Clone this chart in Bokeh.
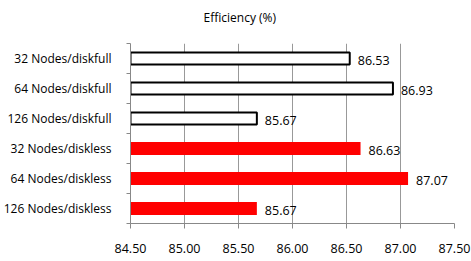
from bokeh.plotting import figure
from bokeh.models import FixedTicker, NumeralTickFormatter, ColumnDataSource, Title
from bokeh.core.properties import value
from bokeh.embed import file_html
from bokeh.resources import INLINE

categories = ["32 Nodes/diskfull", "64 Nodes/diskfull", "126 Nodes/diskfull",
              "32 Nodes/diskless", "64 Nodes/diskless", "126 Nodes/diskless"]
efficiency = [86.53, 86.93, 85.67, 86.63, 87.07, 85.67]
kind = ["diskfull", "diskfull", "diskfull", "diskless", "diskless", "diskless"]
x_ticks = [84.5, 85.0, 85.5, 86.0, 86.5, 87.0, 87.5]
title_text = "Efficiency (%)"

X_START, X_END = x_ticks[0], x_ticks[-1]
n = len(categories)
ypos = [n - i - 0.5 for i in range(n)]

FONT = "Open Sans"

p = figure(width=471, height=261,
           x_range=(X_START, X_END), y_range=(0, n),
           output_backend="svg", toolbar_location=None,
           min_border_left=128, min_border_top=43, min_border_right=17, min_border_bottom=38)
p.title = None
# empty spacer panel between the frame and the chart title
p.add_layout(Title(text=" ", text_font_size="14px", standoff=0), "above")
p.add_layout(Title(text=title_text, align="left", offset=73,
                   text_font=FONT, text_font_size="12px", text_font_style="normal",
                   text_color="#000000", standoff=0), "above")
p.outline_line_color = None
p.background_fill_color = "white"
p.border_fill_color = "white"

full = [i for i, k in enumerate(kind) if k == "diskfull"]
less = [i for i, k in enumerate(kind) if k == "diskless"]

src_full = ColumnDataSource(dict(y=[ypos[i] for i in full], right=[efficiency[i] for i in full]))
src_less = ColumnDataSource(dict(y=[ypos[i] for i in less], right=[efficiency[i] for i in less]))

p.hbar(y="y", right="right", left=X_START, height=0.4, source=src_full,
       fill_color="white", line_color="black", line_width=2)
p.hbar(y="y", right="right", left=X_START, height=0.44, source=src_less,
       fill_color="#ff0000", line_color=None)

lab = ColumnDataSource(dict(x=efficiency, y=ypos, t=["%.2f" % v for v in efficiency]))
p.text(x="x", y="y", text="t", source=lab, x_offset=8, y_offset=2,
       text_font=value(FONT), text_font_size="12.5px", text_baseline="middle",
       text_align="left", text_color="#000000")

# x axis
p.xaxis.ticker = FixedTicker(ticks=x_ticks)
p.xaxis.formatter = NumeralTickFormatter(format="0.00")
p.xaxis.axis_line_color = "#888888"
p.xaxis.major_tick_line_color = "#888888"
p.xaxis.major_tick_out = 5
p.xaxis.major_tick_in = 0
p.xaxis.minor_tick_line_color = None
p.xaxis.major_label_standoff = 15
p.xaxis.major_label_text_font = FONT
p.xaxis.major_label_text_font_size = "12.5px"
p.xaxis.major_label_text_color = "#000000"

# y axis: labels at category centres, ticks at boundaries
p.yaxis.ticker = FixedTicker(ticks=ypos, minor_ticks=list(range(n + 1)))
p.yaxis.major_label_overrides = {y: c for y, c in zip(ypos, categories)}
p.yaxis.axis_line_color = "#888888"
p.yaxis.major_tick_line_color = None
p.yaxis.major_tick_out = 0
p.yaxis.major_tick_in = 0
p.yaxis.minor_tick_line_color = "#888888"
p.yaxis.minor_tick_out = 4
p.yaxis.minor_tick_in = 0
p.yaxis.major_label_standoff = 15
p.yaxis.major_label_text_font = FONT
p.yaxis.major_label_text_font_size = "12px"
p.yaxis.major_label_text_color = "#000000"

p.xgrid.grid_line_color = "#999999"
p.xgrid.ticker = FixedTicker(ticks=x_ticks)
p.ygrid.grid_line_color = None

open("out.html", "w").write(file_html(p, INLINE))
